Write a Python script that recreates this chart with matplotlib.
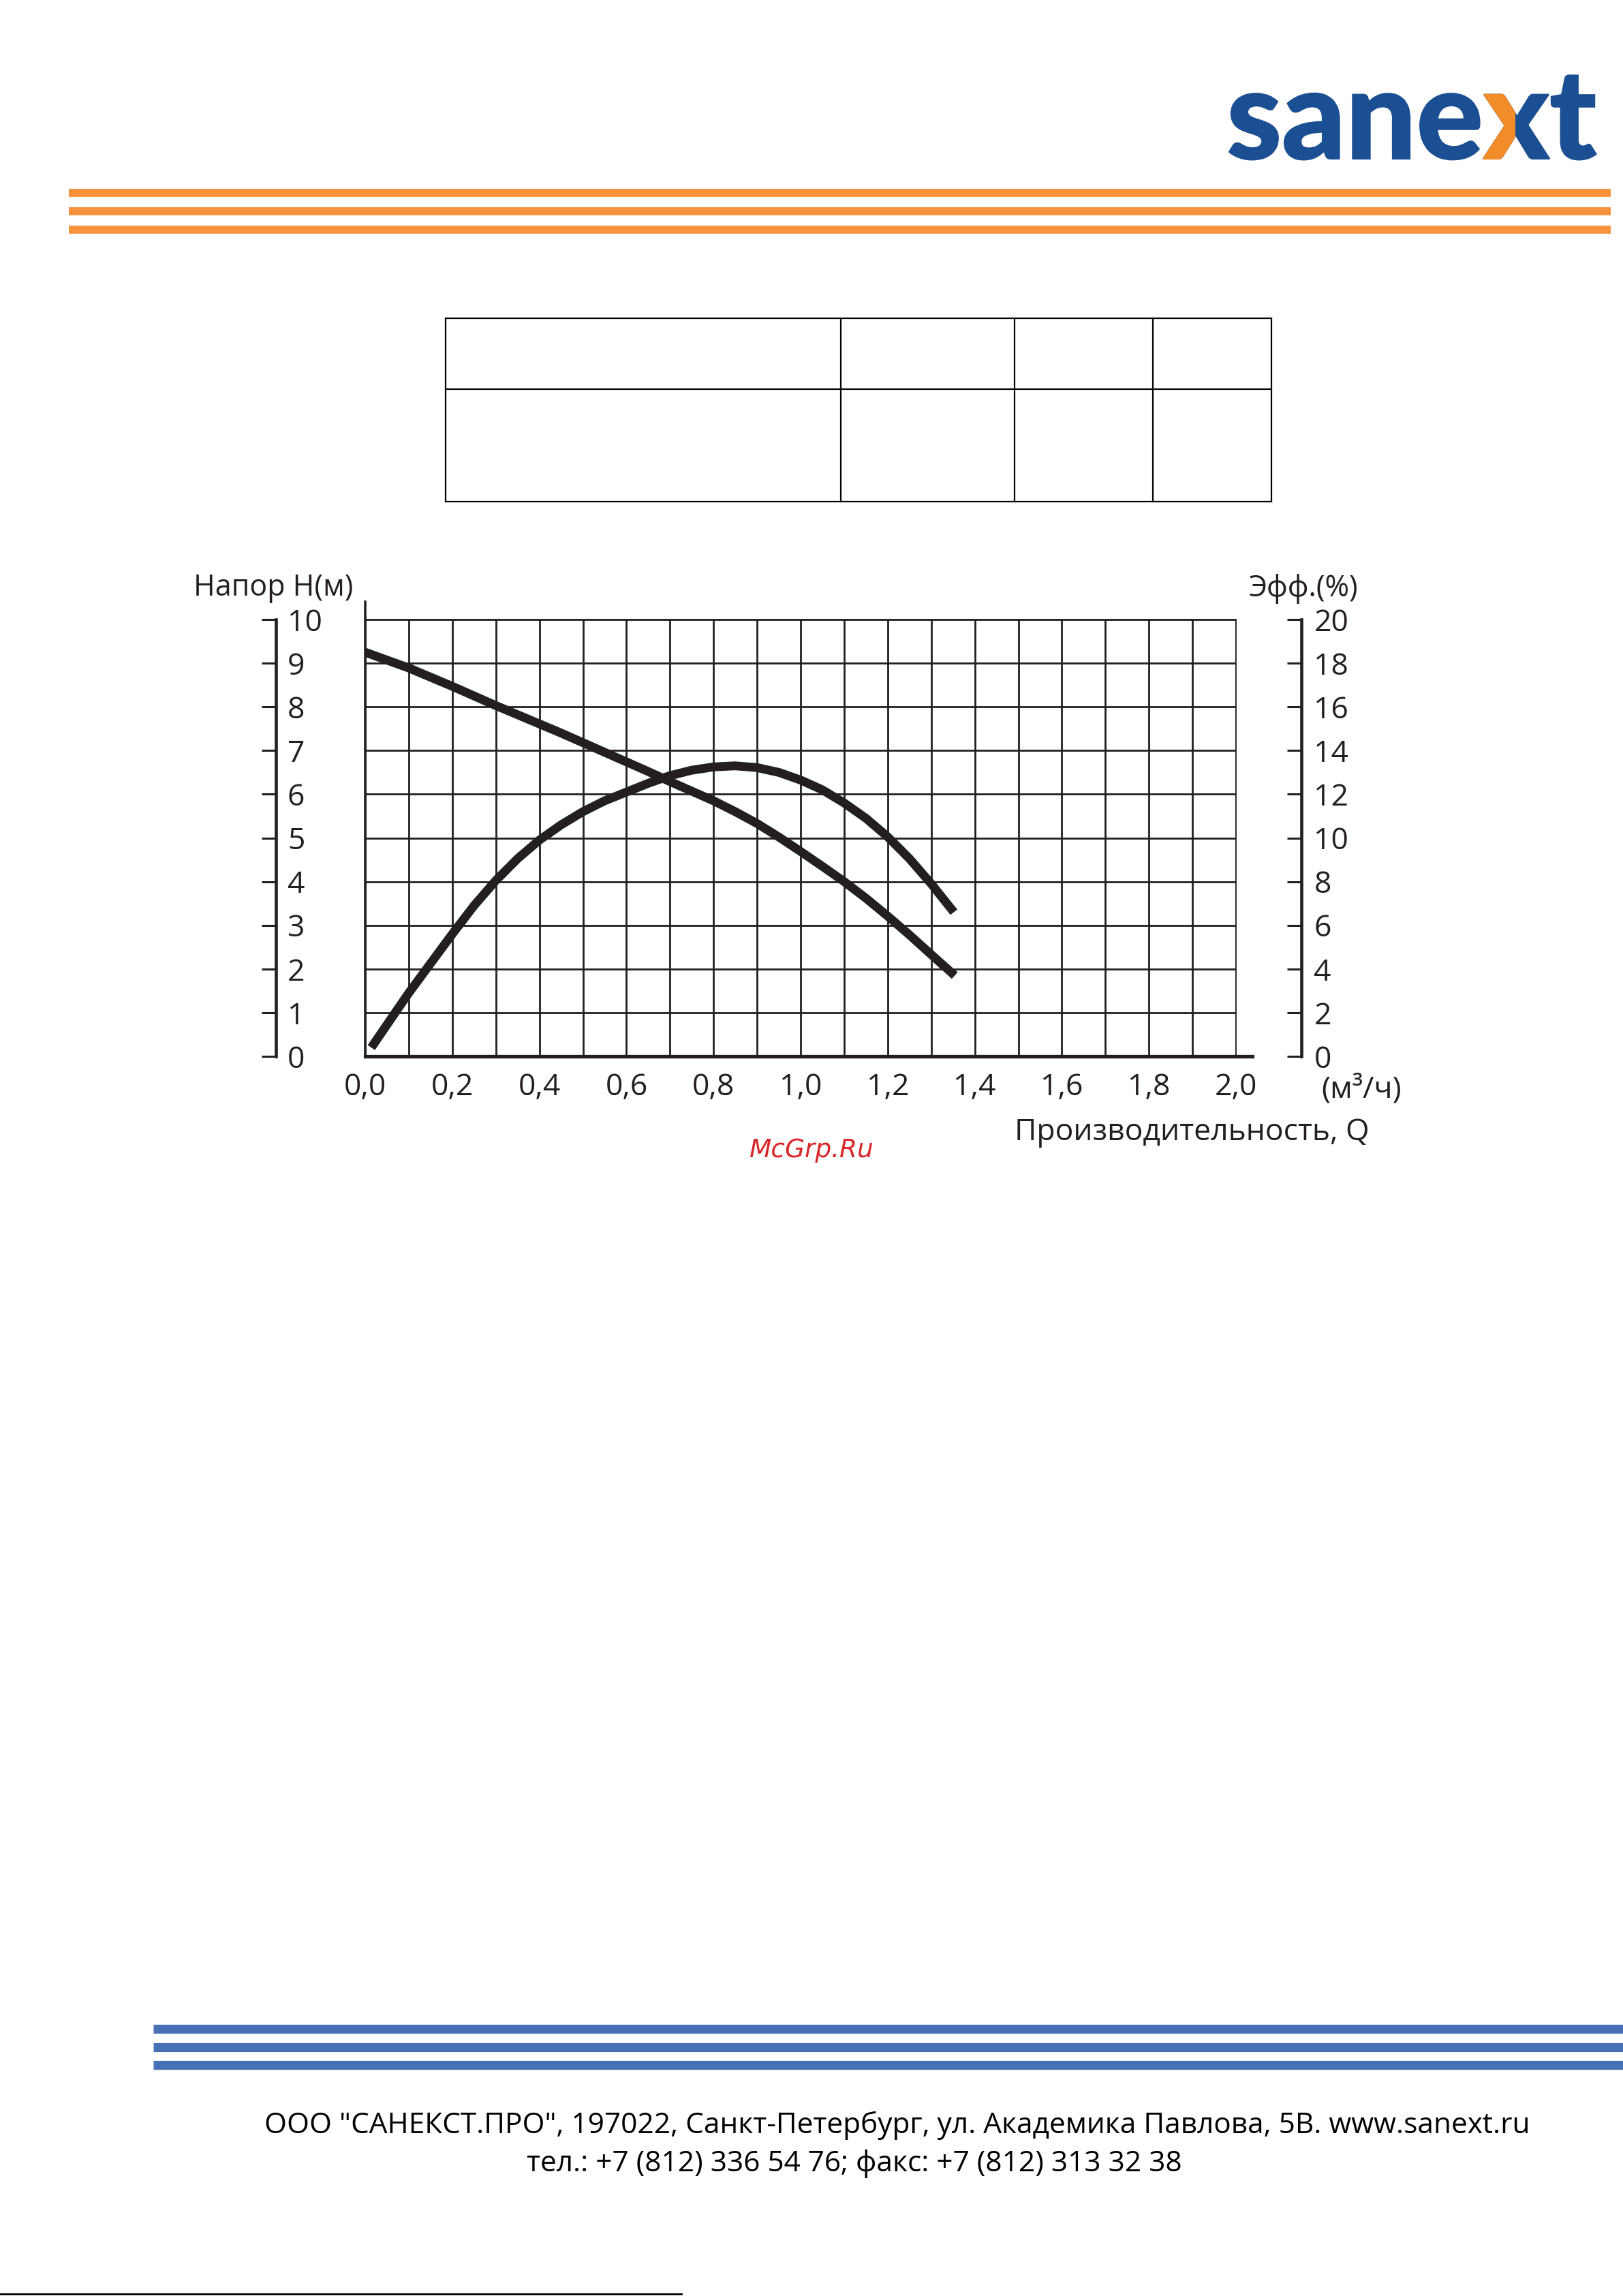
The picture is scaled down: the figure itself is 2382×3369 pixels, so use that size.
import numpy as np
import matplotlib.pyplot as plt
from matplotlib.lines import Line2D
from matplotlib.patches import Rectangle, PathPatch
from matplotlib.textpath import TextPath
from matplotlib.font_manager import FontProperties
from matplotlib.transforms import IdentityTransform, Affine2D

W, H = 2382, 3369

# Напорная характеристика (Q в м3/ч, H в м)
q_napor = [0.0, 0.05, 0.1, 0.15, 0.2, 0.25, 0.3, 0.35, 0.4, 0.45, 0.5, 0.55, 0.6, 0.65,
           0.7, 0.75, 0.8, 0.85, 0.9, 0.95, 1.0, 1.05, 1.1, 1.15, 1.2, 1.25, 1.3, 1.354]
napor = [9.25, 9.07, 8.89, 8.68, 8.47, 8.25, 8.03, 7.82, 7.61, 7.40, 7.18, 6.96, 6.74, 6.52,
         6.29, 6.07, 5.85, 5.60, 5.33, 5.02, 4.69, 4.35, 4.00, 3.62, 3.21, 2.78, 2.33, 1.85]

# КПД (%)
q_eff = [0.014, 0.05, 0.1, 0.15, 0.2, 0.25, 0.3, 0.35, 0.4, 0.45, 0.5, 0.55, 0.6, 0.65,
         0.7, 0.75, 0.8, 0.85, 0.9, 0.95, 1.0, 1.05, 1.1, 1.15, 1.2, 1.25, 1.3, 1.352]
eff = [0.4, 1.45, 2.9, 4.25, 5.6, 6.9, 8.05, 9.05, 9.9, 10.6, 11.2, 11.7, 12.1, 12.5,
       12.85, 13.1, 13.25, 13.3, 13.22, 13.0, 12.65, 12.2, 11.6, 10.9, 10.05, 9.05, 7.9, 6.6]

x_ticks = [0.0, 0.2, 0.4, 0.6, 0.8, 1.0, 1.2, 1.4, 1.6, 1.8, 2.0]
x_labels = ['0,0', '0,2', '0,4', '0,6', '0,8', '1,0', '1,2', '1,4', '1,6', '1,8', '2,0']
x_minor = [0.1, 0.3, 0.5, 0.7, 0.9, 1.1, 1.3, 1.5, 1.7, 1.9]
h_ticks = [0, 1, 2, 3, 4, 5, 6, 7, 8, 9, 10]
eff_ticks = [0, 2, 4, 6, 8, 10, 12, 14, 16, 18, 20]

footer1 = 'ООО "САНЕКСТ.ПРО", 197022, Санкт-Петербург, ул. Академика Павлова, 5В. www.sanext.ru'
footer2 = 'тел.: +7 (812) 336 54 76; факс: +7 (812) 313 32 38'

ink = '#231f20'
blue = '#1b4f93'
orange = '#f28c28'
font = 'Open Sans'


def px(x, y):
    return x / W, 1 - y / H


fig = plt.figure(figsize=(W / 100, H / 100), dpi=100)

# полосы сверху и снизу
for y in [282.5, 309.5, 336.5]:
    fig.add_artist(Line2D([101 / W, 2364 / W], [1 - y / H] * 2, color='#f7923a', lw=8.5,
                          solid_capstyle='butt'))
for y in [2977, 3003.5, 3030]:
    fig.add_artist(Line2D([225 / W, 1.0], [1 - y / H] * 2, color='#4870b6', lw=9.5,
                          solid_capstyle='butt'))
fig.add_artist(Line2D([0, 1000 / W], [1 - 3366 / H] * 2, color='black', lw=2))

# логотип
fp = FontProperties(family='Lato', weight='black')
em = 183
base = H - 233
tp = TextPath((0, 0), 'sanext', size=em, prop=fp)
ext = tp.get_extents()
shift = Affine2D().translate(1804 - ext.x0, base)
fig.add_artist(PathPatch(tp, transform=shift + IdentityTransform(), fc=blue, ec=blue, lw=1.5))
e1 = TextPath((0, 0), 'sane', size=em, prop=fp).get_extents()
e2 = TextPath((0, 0), 'sanex', size=em, prop=fp).get_extents()
x_l = 1804 - ext.x0 + e1.x1 + 2
x_r = 1804 - ext.x0 + e2.x1
orange_part = PathPatch(tp, transform=shift + IdentityTransform(), fc=orange, ec=orange, lw=1.5)
fig.add_artist(orange_part)
orange_part.set_clip_path(Rectangle((x_l, base - 20), (x_r - x_l) * 0.5, em,
                                    transform=IdentityTransform()))

# пустая таблица
t_cols = [654, 1234, 1489, 1692, 1866]
t_rows = [467, 571, 736]
for y in t_rows:
    fig.add_artist(Line2D([t_cols[0] / W, t_cols[-1] / W], [1 - y / H] * 2, color='black', lw=1.6))
for x in t_cols:
    fig.add_artist(Line2D([x / W] * 2, [1 - t_rows[0] / H, 1 - t_rows[-1] / H], color='black', lw=1.6))

# график
L, R, T, B = 536, 1814, 909, 1550
ax = fig.add_axes([L / W, 1 - B / H, (R - L) / W, (B - T) / H])
ax.set_xlim(0, 2)
ax.set_ylim(0, 10)
ax.set_xticks(x_ticks)
ax.set_xticklabels(x_labels, fontsize=32, family=font, color=ink)
ax.set_xticks(x_minor, minor=True)
ax.set_yticks(h_ticks)
ax.set_yticklabels([])
ax.tick_params(which='both', length=0)
ax.tick_params(axis='x', pad=17)
ax.grid(which='both', color=ink, lw=2.0)
ax.set_axisbelow(True)
for s in ['top', 'right']:
    ax.spines[s].set_linewidth(1.3)
    ax.spines[s].set_color(ink)
ax.spines['left'].set_visible(False)
ax.spines['bottom'].set_visible(False)
ax.axvline(0, ymin=0, ymax=1.04, color=ink, lw=2.6, clip_on=False)
ax.axhline(0, xmin=0, xmax=1.019, color=ink, lw=3.8, clip_on=False)

ax.plot(q_napor, napor, color=ink, lw=9.3, solid_capstyle='butt', solid_joinstyle='round',
        zorder=5)
ax2 = ax.twinx()
ax2.set_ylim(0, 20)
ax2.set_axis_off()
ax2.plot(q_eff, eff, color=ink, lw=9.3, solid_capstyle='butt', solid_joinstyle='round',
         zorder=5)


def bracket(x, ticks, pad):
    b = fig.add_axes([x / W, 1 - B / H, 0.0001, (B - T) / H])
    b.set_ylim(ticks[0], ticks[-1])
    b.patch.set_visible(False)
    for s in ['left', 'top', 'bottom']:
        b.spines[s].set_visible(False)
    b.spines['right'].set_linewidth(3.3)
    b.spines['right'].set_color(ink)
    b.set_xticks([])
    b.yaxis.tick_right()
    b.set_yticks(ticks)
    b.tick_params(axis='y', direction='in', length=15, width=2.2, pad=pad,
                  labelsize=32, colors=ink)
    for t in b.get_yticklabels():
        t.set_family(font)


bracket(405, h_ticks, 12)
bracket(1910, eff_ticks, 13)

fig.text(*px(284, 874), 'Напор Н(м)', fontsize=31, family=font, color=ink, va='baseline')
fig.text(*px(1833, 875), 'Эфф.(%)', fontsize=31, family=font, color=ink, va='baseline')
fig.text(*px(1939, 1611), '(м³/ч)', fontsize=32, family=font, color=ink, va='baseline')
fig.text(*px(1489, 1673), 'Производительность, Q', fontsize=32, family=font, color=ink,
         va='baseline')
fig.text(*px(1100, 1698), 'McGrp.Ru', fontsize=27, family='DejaVu Sans', style='italic',
         color='#d9262b', va='baseline')

fig.text(*px(1317, 3130), footer1, fontsize=30.5, family=font, color='black', ha='center',
         va='baseline')
fig.text(*px(1254, 3186), footer2, fontsize=30.5, family=font, color='black', ha='center',
         va='baseline')

fig.savefig('out.png', dpi=100)
